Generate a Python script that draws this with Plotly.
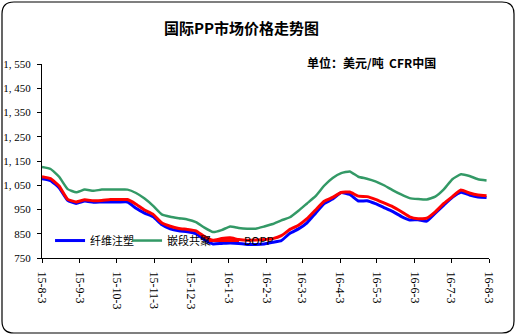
import plotly.graph_objects as go
from datetime import date, timedelta

# weekly dates
start = date(2015, 8, 3)
dates = [(start + timedelta(days=7 * k)).isoformat() for k in range(53)]

fiber = [1077, 1069, 1040, 988, 975, 985, 980, 981, 981, 981,
         981, 955, 935, 920, 888, 870, 862, 858, 850, 825,
         808, 810, 812, 810, 806, 806, 808, 815, 822, 852,
         870, 895, 935, 975, 993, 1020, 1012, 985, 986, 974,
         958, 942, 922, 907, 908, 902, 935, 968, 1000, 1021,
         1010, 1002, 1000]

block = [1125, 1117, 1085, 1034, 1021, 1032, 1027, 1032, 1032, 1032,
         1032, 1018, 995, 965, 930, 920, 914, 909, 898, 875,
         857, 865, 880, 874, 871, 871, 880, 890, 905, 918,
         945, 975, 1005, 1048, 1080, 1100, 1107, 1085, 1077, 1066,
         1050, 1030, 1012, 997, 993, 991, 1003, 1033, 1075, 1095,
         1088, 1075, 1070]

bopp = [1085, 1077, 1047, 992, 981, 990, 986, 987, 991, 991,
        991, 972, 948, 930, 895, 881, 872, 868, 862, 838,
        823, 830, 833, 826, 823, 824, 826, 830, 842, 868,
        885, 912, 948, 984, 1000, 1020, 1022, 1005, 1003, 992,
        977, 962, 942, 920, 912, 914, 940, 975, 1003, 1030,
        1018, 1010, 1007]

series_names = ["纤维注塑", "嵌段共聚", "BOPP"]
series_colors = ["#0000FF", "#339966", "#FF0000"]
series_widths = [3, 2.5, 3]

tick_dates = ["2015-08-03", "2015-09-03", "2015-10-03", "2015-11-03", "2015-12-03",
              "2016-01-03", "2016-02-03", "2016-03-03", "2016-04-03", "2016-05-03",
              "2016-06-03", "2016-07-03", "2016-08-03"]
tick_labels = ["15-8-3", "15-9-3", "15-10-3", "15-11-3", "15-12-3", "16-1-3",
               "16-2-3", "16-3-3", "16-4-3", "16-5-3", "16-6-3", "16-7-3", "16-8-3"]

y_ticks = [750, 850, 950, 1050, 1150, 1250, 1350, 1450, 1550]
y_labels = ["750", "850", "950", "1, 050", "1, 150", "1, 250", "1, 350", "1, 450", "1, 550"]

fig = go.Figure()
for name, vals, col, w in zip(series_names, [fiber, block, bopp], series_colors, series_widths):
    fig.add_trace(go.Scatter(x=dates, y=vals, mode="lines", name=name,
                             line=dict(color=col, width=w, shape="spline", smoothing=0.4)))

W, H = 517, 335
L, R, T, B = 42, 28, 64, 77
pw, ph = W - L - R, H - T - B

def px(x):
    return (x - L) / pw

def py(y):
    return (H - B - y) / ph

# rounded border path in paper coords
x0, x1, y0, y1 = px(2), px(514), py(333), py(2)
rx, ry = 12 / pw, 12 / ph
path = (f"M {x0+rx},{y1} L {x1-rx},{y1} Q {x1},{y1} {x1},{y1-ry} "
        f"L {x1},{y0+ry} Q {x1},{y0} {x1-rx},{y0} L {x0+rx},{y0} "
        f"Q {x0},{y0} {x0},{y0+ry} L {x0},{y1-ry} Q {x0},{y1} {x0+rx},{y1} Z")

fig.update_layout(
    width=W, height=H,
    margin=dict(l=L, r=R, t=T, b=B, autoexpand=False),
    paper_bgcolor="white", plot_bgcolor="white",
    showlegend=True,
    legend=dict(orientation="h", x=0.018, y=0.09, xanchor="left", yanchor="middle",
                bgcolor="rgba(0,0,0,0)", font=dict(family="Noto Sans CJK SC", size=11, color="black"),
                itemwidth=30, tracegroupgap=0, entrywidth=32, entrywidthmode="pixels"),
    shapes=[dict(type="path", xref="paper", yref="paper", path=path,
                 line=dict(color="black", width=1.2), layer="above")],
    annotations=[
        dict(text="<b>国际PP市场价格走势图</b>", xref="paper", yref="paper",
             x=px(241), y=py(27), xanchor="center", yanchor="middle", showarrow=False,
             font=dict(family="Noto Sans CJK SC", size=15, color="black")),
        dict(text="<b>单位：美元/吨  CFR中国</b>", xref="paper", yref="paper",
             x=px(305), y=py(62), xanchor="left", yanchor="middle", showarrow=False,
             font=dict(family="Noto Sans CJK SC", size=12, color="black")),
    ],
)

fig.update_xaxes(type="date", range=["2015-08-03", "2016-08-03"], automargin=False,
                 tickvals=tick_dates, ticktext=tick_labels, tickangle=90,
                 ticks="outside", ticklen=4, tickcolor="black", ticklabelstandoff=6,
                 showline=True, linecolor="black", linewidth=1.2,
                 showgrid=False, zeroline=False,
                 tickfont=dict(family="Liberation Serif", size=12, color="black"))
fig.update_yaxes(range=[750, 1550], tickvals=y_ticks, ticktext=y_labels, automargin=False,
                 ticks="outside", ticklen=4, tickcolor="black", ticklabelstandoff=4,
                 showline=True, linecolor="black", linewidth=1.2,
                 showgrid=False, zeroline=False,
                 tickfont=dict(family="Liberation Serif", size=11, color="black"))

fig.write_html("out.html")
